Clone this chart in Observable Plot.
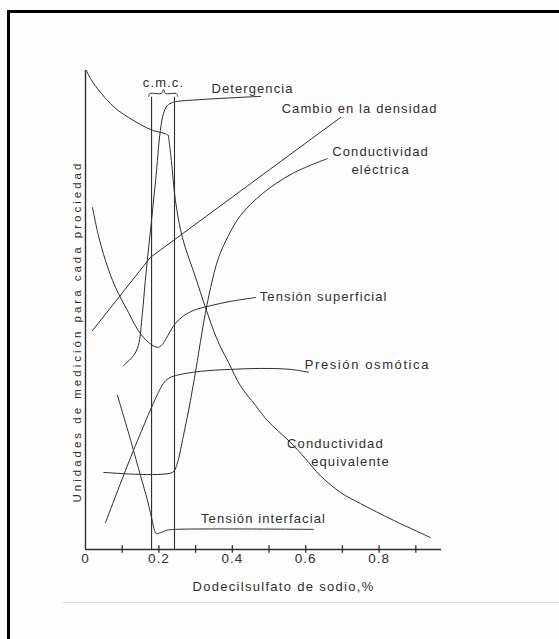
<!DOCTYPE html>
<html>
<head>
<meta charset="utf-8">
<script src="https://cdn.jsdelivr.net/npm/d3@7"></script>
<script src="https://cdn.jsdelivr.net/npm/@observablehq/plot@0.6"></script>
<style>
  html, body { margin: 0; padding: 0; background: #fdfdfd; }
  #wrap { position: relative; width: 559px; height: 639px; overflow: hidden; }
  #frame { position: absolute; left: 7px; top: 10px; right: -10px; bottom: -10px;
           border-top: 3px solid #000; border-left: 3px solid #000; pointer-events: none; }
  #rule { position: absolute; left: 63px; top: 602px; width: 496px; height: 1px; background: #dcdcdc; }
  svg { position: absolute; left: 0; top: 0; }
</style>
</head>
<body>
<div id="wrap"><div id="rule"></div><div id="frame"></div></div>
<script>
// ---- data (x: % dodecilsulfato de sodio, y: unidades relativas 0–100) ----
const xTicks = [0.1, 0.2, 0.3, 0.4, 0.5, 0.6, 0.7, 0.8, 0.9];
const xTickLabels = [0, 0.2, 0.4, 0.6, 0.8];
const cmcLines = [0.18, 0.2425];

const detergencia = [[0.1035,38.4],[0.131,40.5],[0.144,42.6],[0.155,49.3],[0.163,56.2],[0.177,66.6],[0.191,77.0],[0.204,87.5],[0.2125,91.0],[0.223,92.7],[0.237,93.3],[0.245,93.5],[0.477,94.6]];
const densidad = [[0.019,45.7],[0.177,61.0],[0.695,90.2]];
const condElectrica = [[0.0497,16.1],[0.237,16.1],[0.248,17.5],[0.267,23.8],[0.286,31.1],[0.305,39.5],[0.322,47.4],[0.341,54.7],[0.362,60.8],[0.390,65.6],[0.422,69.7],[0.482,74.3],[0.564,78.5],[0.659,81.6]];
const tensionSuperficial = [[0.019,71.4],[0.035,65.6],[0.0545,60.3],[0.0736,56.2],[0.090,53.4],[0.117,49.5],[0.144,45.7],[0.172,43.2],[0.196,42.2],[0.207,42.6],[0.218,43.8],[0.232,45.7],[0.245,47.2],[0.264,48.6],[0.294,49.9],[0.341,50.9],[0.395,51.8],[0.463,52.6]];
const presionOsmotica = [[0.0545,5.6],[0.142,22.8],[0.2125,34.7],[0.226,35.7],[0.245,36.3],[0.313,37.2],[0.395,37.6],[0.477,37.8],[0.559,37.6],[0.608,37.0]];
const condEquivalenteAlta = [[0.0027,100],[0.0136,98.3],[0.041,95.4],[0.068,93.1],[0.090,91.6],[0.117,90.2],[0.150,88.7],[0.183,87.5],[0.218,86.8],[0.226,86.4]];
const condEquivalenteBaja = [[0.226,86.4],[0.234,81.2],[0.245,72.9],[0.264,65.1],[0.300,56.8],[0.327,50.5],[0.360,43.6],[0.390,39.0],[0.422,34.2],[0.463,30.1],[0.496,26.9],[0.559,22.3],[0.599,19.0],[0.640,15.4],[0.695,11.9],[0.749,9.6],[0.839,6.1],[0.940,2.5]];
const tensionInterfacial = [[0.087,32.2],[0.123,22.8],[0.150,15.4],[0.169,10.2],[0.183,5.6],[0.188,4.0],[0.193,3.3],[0.204,3.5],[0.221,4.0],[0.245,4.2],[0.621,4.2]];
const cmcBrace = [[0.172,94.6],[0.176,95.2],[0.207,95.2],[0.2125,96.0],[0.218,95.2],[0.247,95.2],[0.251,94.6]];

const labelTexts = ["c.m.c.", "Detergencia", "Cambio en la densidad", "Conductividad", "eléctrica", "Tensión superficial", "Presión osmótica", "Conductividad", "equivalente", "Tensión interfacial"];
const labelX = [0.2125, 0.455, 0.747, 0.804, 0.804, 0.649, 0.768, 0.681, 0.722, 0.485];
const labelY = [97.5, 96.2, 92.1, 83.1, 79.3, 52.8, 38.6, 22.1, 18.2, 6.3];

const xTitle = "Dodecilsulfato de sodio,%";
const yTitle = "Unidades de medición para cada prociedad";
const yTitlePos = {x: -0.022, y: 45.5};

// ---- build tables ----
const curves = [
  [detergencia, "catmull-rom"],
  [densidad, "linear"],
  [condElectrica, "catmull-rom"],
  [tensionSuperficial, "catmull-rom"],
  [presionOsmotica, "catmull-rom"],
  [condEquivalenteAlta, "catmull-rom"],
  [condEquivalenteBaja, "catmull-rom"],
  [tensionInterfacial, "catmull-rom"]
];
const labels = labelTexts.map((t, i) => ({t, x: labelX[i], y: labelY[i]}));
const ink = "#2f2f2f";
const tickText = d => d === 0 ? "0" : d.toFixed(1);

const chart = Plot.plot({
  width: 559, height: 639,
  marginLeft: 85, marginRight: 118, marginTop: 70, marginBottom: 90,
  x: {domain: [0, 0.97], axis: null},
  y: {domain: [0, 100], axis: null},
  style: {fontFamily: "'Liberation Sans', sans-serif", fontSize: "13px", color: ink, background: "transparent", overflow: "visible"},
  marks: [
    Plot.ruleY([0], {stroke: ink, strokeWidth: 1.4}),
    Plot.ruleX([0], {stroke: ink, strokeWidth: 1.4}),
    Plot.ruleX(xTicks, {y1: -0.8, y2: 0.8, stroke: ink, strokeWidth: 1.3}),
    Plot.text(xTickLabels, {x: d => d, frameAnchor: "bottom", dy: 13, text: tickText, fill: ink, fontSize: 13.5}),
    Plot.ruleX(cmcLines, {y1: 0, y2: 94.4, stroke: ink, strokeWidth: 1.1}),
    Plot.line(cmcBrace, {x: d => d[0], y: d => d[1], stroke: ink, strokeWidth: 1, curve: "catmull-rom"}),
    ...curves.map(([pts, curve]) =>
      Plot.line(pts, {x: d => d[0], y: d => d[1], stroke: ink, strokeWidth: 1, curve})),
    Plot.text(labels, {x: "x", y: "y", text: "t", fill: ink, fontSize: 13}),
    Plot.text([xTitle], {frameAnchor: "bottom", dx: 20, dy: 41, text: d => d, fill: ink, fontSize: 13}),
    Plot.text([yTitle], {x: yTitlePos.x, y: yTitlePos.y, rotate: -90, text: d => d, fill: ink, fontSize: 11.5})
  ]
});
// letter spacing imitating the stencil lettering of the original
const tickSet = new Set(xTickLabels.map(tickText));
const labelSet = new Set(labelTexts);
d3.select(chart).selectAll("text").each(function() {
  const s = this.textContent;
  let ls = null;
  if (s === yTitle) ls = "3px";
  else if (s === xTitle) ls = "1.3px";
  else if (s === "Presión osmótica") ls = "1.6px";
  else if (labelSet.has(s)) ls = "1.1px";
  else if (tickSet.has(s)) ls = "1px";
  if (ls) { this.setAttribute("letter-spacing", ls); this.style.letterSpacing = ls; }
});
document.getElementById("wrap").appendChild(chart);
</script>
</body>
</html>
